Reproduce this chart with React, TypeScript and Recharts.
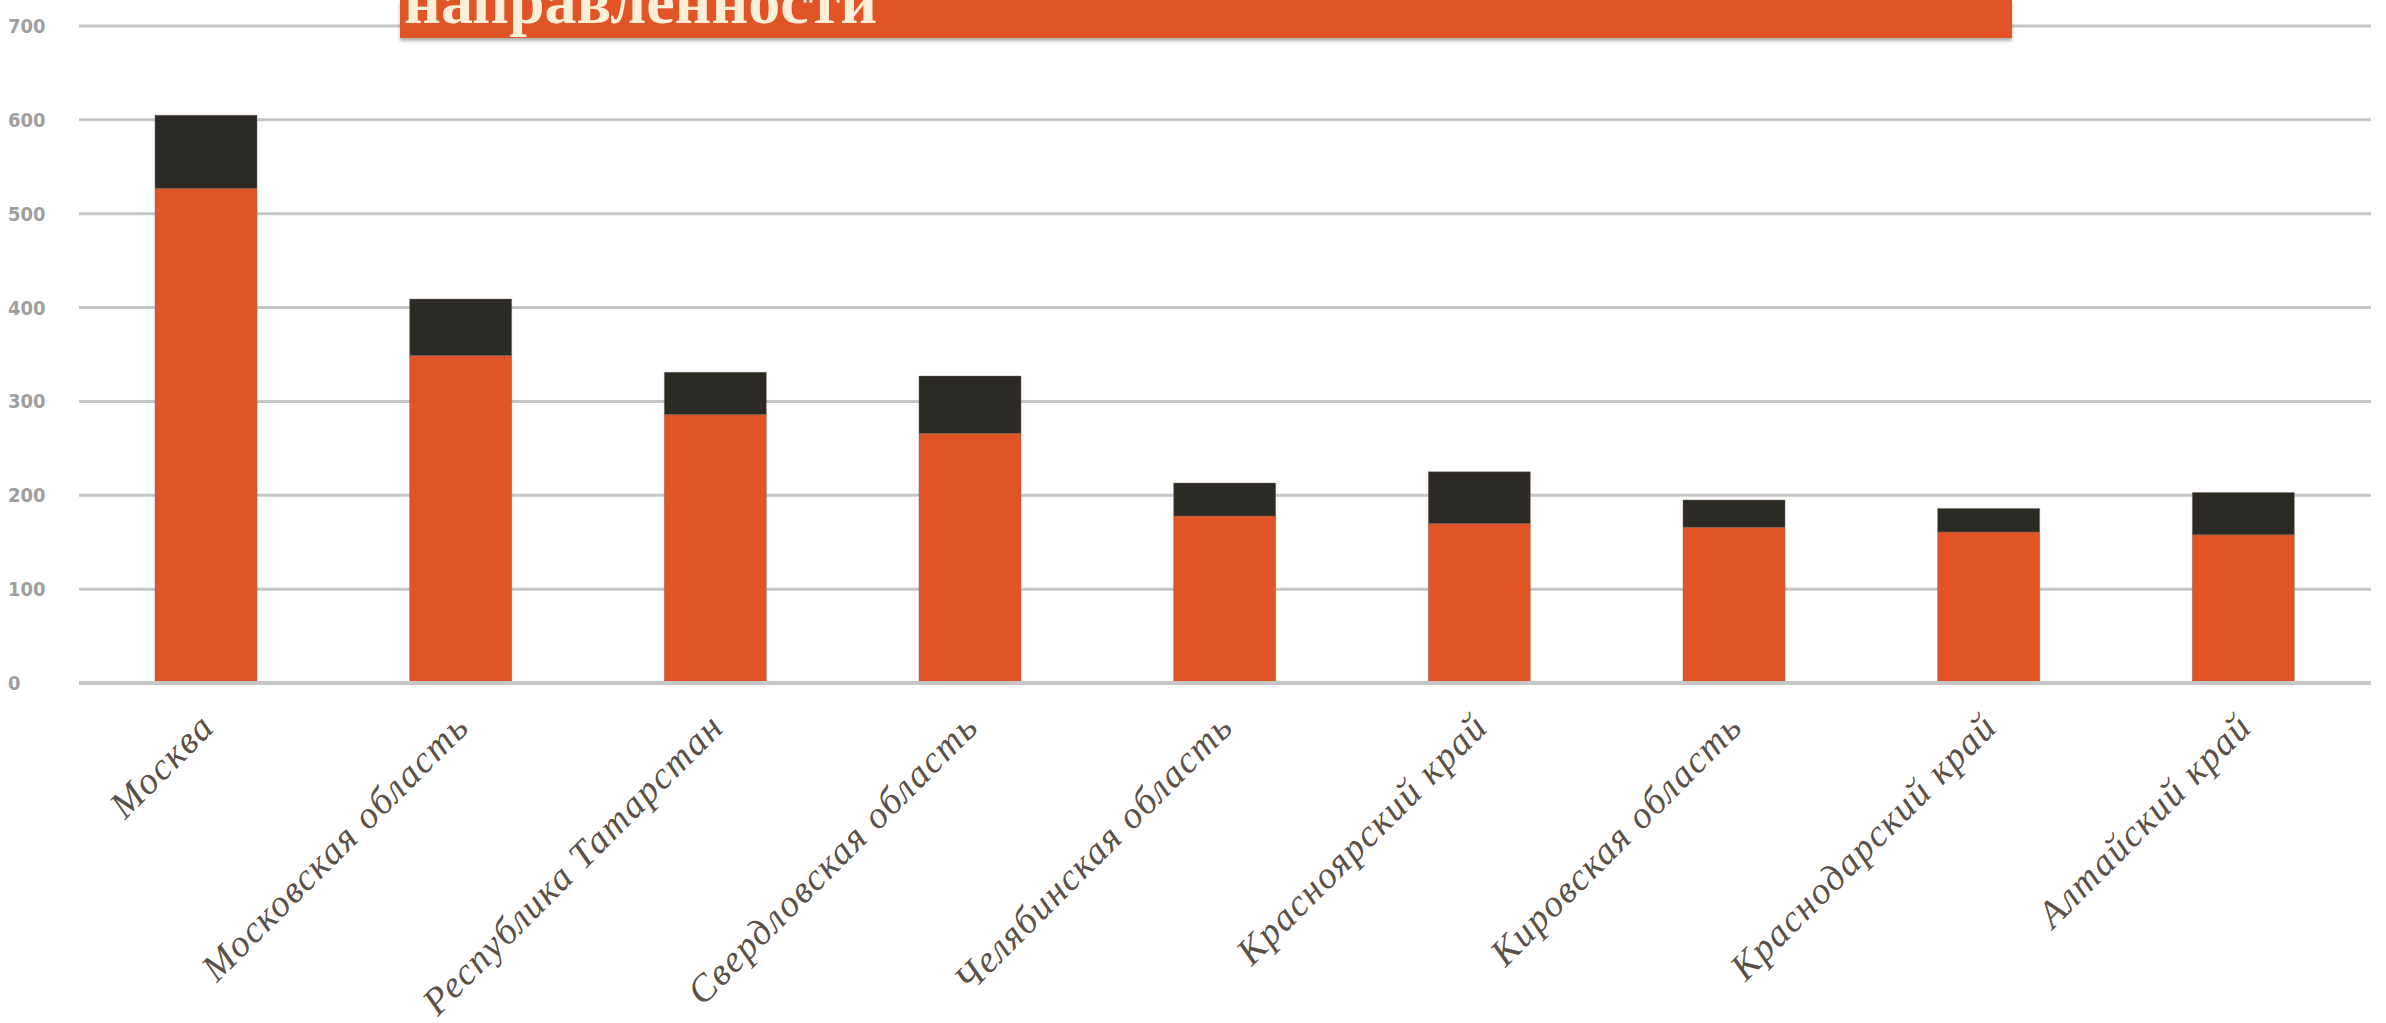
import { BarChart, Bar, XAxis, YAxis, CartesianGrid } from "recharts";

const regions = [
  "Москва",
  "Московская область",
  "Республика Татарстан",
  "Свердловская область",
  "Челябинская область",
  "Красноярский край",
  "Кировская область",
  "Краснодарский край",
  "Алтайский край",
];
const mainValues = [527, 349, 286, 266, 178, 170, 166, 161, 158];
const extraValues = [78, 60, 45, 61, 35, 55, 29, 25, 45];
const yTicks = [0, 100, 200, 300, 400, 500, 600, 700];

const ORANGE = "#e05426";
const DARK = "#2b2a24";
const GRID = "#c6c6c6";

const data = regions.map((name, i) => ({ name, main: mainValues[i], extra: extraValues[i] }));

const YTick = (props: any) => {
  const { y, payload } = props;
  return (
    <text
      x={8}
      y={y}
      dy={7}
      textAnchor="start"
      fill="#9f9f9f"
      fontFamily="DejaVu Sans Condensed"
      fontWeight={700}
      fontSize={20}
    >
      {payload.value}
    </text>
  );
};

const XTick = (props: any) => {
  const { x, y, payload } = props;
  const tx = x + 10;
  const ty = y + 38;
  return (
    <text
      x={tx}
      y={ty}
      textAnchor="end"
      transform={`rotate(-45, ${tx}, ${ty})`}
      fill="#5a5048"
      fontFamily="Liberation Serif"
      fontStyle="italic"
      fontSize={38}
      letterSpacing={1.5}
    >
      {payload.value}
    </text>
  );
};

export default function App() {
  return (
    <div style={{ position: "absolute", left: 0, top: 0, width: 2386, height: 1023, background: "#fff" }}>
      <BarChart
        width={2386}
        height={1023}
        data={data}
        margin={{ top: 26, right: 15, bottom: 0, left: 0 }}
      >
        <CartesianGrid horizontal vertical={false} stroke={GRID} strokeWidth={3} />
        <XAxis
          dataKey="name"
          interval={0}
          height={340}
          tickLine={false}
          axisLine={{ stroke: GRID, strokeWidth: 4 }}
          tick={<XTick />}
        />
        <YAxis
          width={79}
          domain={[0, 700]}
          ticks={yTicks}
          axisLine={false}
          tickLine={false}
          tick={<YTick />}
        />
        <Bar
          dataKey="main"
          stackId="a"
          fill={ORANGE}
          stroke="rgba(120,100,90,0.45)"
          strokeWidth={1}
          barSize={102}
          isAnimationActive={false}
        />
        <Bar
          dataKey="extra"
          stackId="a"
          fill={DARK}
          stroke="rgba(120,100,90,0.45)"
          strokeWidth={1}
          barSize={102}
          isAnimationActive={false}
        />
      </BarChart>
      <div
        style={{
          position: "absolute",
          left: 400,
          top: 0,
          width: 1612,
          height: 38,
          background: ORANGE,
          boxShadow: "0 3px 3px rgba(0,0,0,0.3)",
          overflow: "hidden",
        }}
      >
        <span
          style={{
            position: "absolute",
            left: 4,
            top: -30,
            fontFamily: "Liberation Serif",
            fontWeight: 700,
            fontSize: 64,
            lineHeight: "64px",
            color: "#fcefd8",
            whiteSpace: "nowrap",
          }}
        >
          направленности
        </span>
      </div>
    </div>
  );
}
